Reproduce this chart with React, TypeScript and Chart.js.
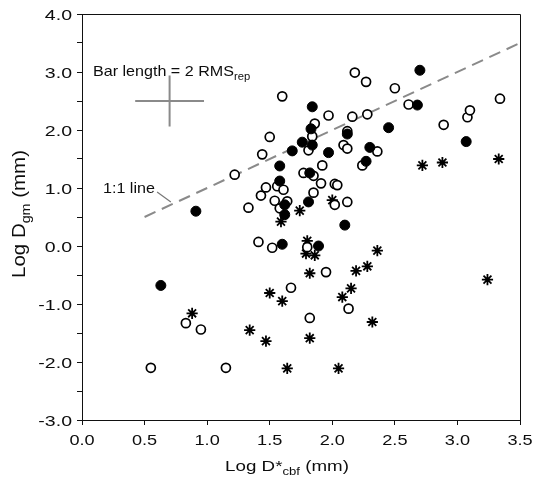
import React, { useEffect, useRef } from 'react';
import { Chart, registerables } from 'chart.js';

Chart.register(...registerables);

// ---- data ----
const filledX = [0.63, 0.91, 1.58, 1.58, 1.62, 1.62, 1.60, 1.68, 1.76, 1.84, 1.83, 1.84, 1.82, 1.81, 1.89, 1.97, 2.10, 2.12, 2.27, 2.30, 2.45, 2.68, 2.70, 3.07];
const filledY = [-0.68, 0.60, 1.38, 1.12, 0.71, 0.54, 0.03, 1.64, 1.79, 1.74, 2.02, 2.40, 1.26, 0.76, 0.00, 1.61, 0.36, 1.93, 1.46, 1.70, 2.04, 2.43, 3.03, 1.80];

const openX = [0.55, 0.83, 0.95, 1.15, 1.22, 1.33, 1.41, 1.43, 1.44, 1.47, 1.50, 1.52, 1.54, 1.56, 1.58, 1.60, 1.61, 1.64, 1.67, 1.77, 1.80, 1.81, 1.82, 1.84, 1.85, 1.85, 1.86, 1.91, 1.92, 1.95, 1.97, 2.02, 2.04, 2.02, 2.09, 2.12, 2.12, 2.12, 2.13, 2.16, 2.18, 2.24, 2.27, 2.28, 2.36, 2.50, 2.61, 2.89, 3.08, 3.10, 3.34];
const openY = [-2.10, -1.33, -1.44, -2.10, 1.23, 0.66, 0.07, 0.87, 1.58, 1.01, 1.88, -0.03, 0.78, 1.03, 0.65, 2.58, 0.97, 0.77, -0.72, 1.26, -0.02, 1.65, -1.24, 1.89, 0.92, 1.21, 2.11, 1.08, 1.39, -0.45, 2.25, 1.07, 1.05, 0.71, 1.74, 1.98, 1.68, 0.76, -1.08, 2.23, 2.99, 1.39, 2.83, 2.27, 1.63, 2.72, 2.44, 2.09, 2.22, 2.34, 2.54];

const starX = [0.88, 1.34, 1.47, 1.50, 1.59, 1.60, 1.64, 1.74, 1.79, 1.80, 1.82, 1.82, 1.86, 2.00, 2.05, 2.08, 2.15, 2.19, 2.28, 2.32, 2.36, 2.72, 2.88, 3.24, 3.33];
const starY = [-1.16, -1.45, -1.64, -0.81, 0.42, -0.95, -2.11, 0.61, -0.13, 0.09, -0.47, -1.59, -0.16, 0.79, -2.11, -0.88, -0.73, -0.43, -0.35, -1.31, -0.08, 1.39, 1.44, -0.58, 1.50];

const oneToOneX = [0.5, 3.5];
const oneToOneY = [0.5, 3.5];

const crossCenter = [0.70, 2.50];
const crossHalf = [0.275, 0.44];

const leaderX = [0.60, 0.71];
const leaderY = [0.93, 0.76];

const xTickValues = [0, 0.5, 1, 1.5, 2, 2.5, 3, 3.5];
const yTickValues = [-3, -2, -1, 0, 1, 2, 3, 4];

const FONT = '"Liberation Sans", Arial, Helvetica, sans-serif';
const TEXT = '#0d0d0d';

type Part = { t: string; sub?: boolean };

function partsWidth(ctx: CanvasRenderingContext2D, parts: Part[], size: number) {
  let w = 0;
  for (const p of parts) {
    ctx.font = `${p.sub ? size * 0.7 : size}px ${FONT}`;
    w += ctx.measureText(p.t).width;
  }
  return w;
}

function drawParts(ctx: CanvasRenderingContext2D, parts: Part[], size: number, x0: number) {
  let x = x0;
  for (const p of parts) {
    const s = p.sub ? size * 0.7 : size;
    ctx.font = `${s}px ${FONT}`;
    ctx.fillText(p.t, x, p.sub ? size * 0.28 : 0);
    x += ctx.measureText(p.t).width;
  }
}

// draws rich text; (x,y) = anchor on baseline
function drawRich(
  ctx: CanvasRenderingContext2D,
  parts: Part[],
  x: number,
  y: number,
  size: number,
  sx: number,
  sy: number,
  align: 'left' | 'center' | 'right',
  rotate = 0
) {
  ctx.save();
  ctx.translate(x, y);
  if (rotate) ctx.rotate(rotate);
  ctx.scale(sx, sy);
  ctx.fillStyle = TEXT;
  ctx.textAlign = 'left';
  ctx.textBaseline = 'alphabetic';
  const w = partsWidth(ctx, parts, size);
  const start = align === 'left' ? 0 : align === 'center' ? -w / 2 : -w;
  drawParts(ctx, parts, size, start);
  ctx.restore();
}

const textPlugin = {
  id: 'customText',
  afterDraw(chart: any) {
    const ctx: CanvasRenderingContext2D = chart.ctx;
    const xs = chart.scales.x;
    const ys = chart.scales.y;
    const ca = chart.chartArea;

    // frame (top & right)
    ctx.save();
    ctx.strokeStyle = '#111';
    ctx.lineWidth = 1;
    ctx.beginPath();
    const l = Math.round(ca.left) + 0.5, r = Math.round(ca.right) + 0.5;
    const t = Math.round(ca.top) + 0.5, b = Math.round(ca.bottom) + 0.5;
    ctx.moveTo(l, t);
    ctx.lineTo(r, t);
    ctx.lineTo(r, b);
    ctx.stroke();
    ctx.restore();

    // y tick labels
    for (const v of yTickValues) {
      const py = ys.getPixelForValue(v);
      drawRich(ctx, [{ t: v.toFixed(1) }], ca.left - 10, py + 5.6, 15.5, 1.26, 1, 'right');
    }
    // x tick labels
    for (const v of xTickValues) {
      const px = xs.getPixelForValue(v);
      drawRich(ctx, [{ t: v.toFixed(1) }], px, 445, 15.5, 1.17, 1, 'center');
    }
    // x title
    drawRich(
      ctx,
      [{ t: 'Log D*' }, { t: 'cbf', sub: true }, { t: ' (mm)' }],
      287,
      471,
      15.5,
      1.21,
      1,
      'center'
    );
    // y title
    drawRich(
      ctx,
      [{ t: 'Log D' }, { t: 'gm', sub: true }, { t: ' (mm)' }],
      25,
      214,
      15.5,
      1.32,
      1.2,
      'center',
      -Math.PI / 2
    );
    // annotations
    drawRich(ctx, [{ t: 'Bar length = 2 RMS' }, { t: 'rep', sub: true }], 93, 76, 14.5, 1.11, 1, 'left');
    drawRich(ctx, [{ t: '1:1 line' }], 103, 193, 14.5, 1.11, 1, 'left');
  },
};

function toPts(xs: number[], ys: number[]) {
  return xs.map((x, i) => ({ x, y: ys[i] }));
}

export default function App() {
  const ref = useRef<HTMLCanvasElement | null>(null);

  useEffect(() => {
    if (!ref.current) return;
    const gray = '#8a8a8a';
    const chart = new Chart(ref.current, {
      type: 'scatter',
      data: {
        datasets: [
          {
            label: 'filled',
            data: toPts(filledX, filledY),
            pointStyle: 'circle',
            pointRadius: 5,
            backgroundColor: '#000',
            borderColor: '#000',
            borderWidth: 1,
          },
          {
            label: 'open',
            data: toPts(openX, openY),
            pointStyle: 'circle',
            pointRadius: 4.5,
            backgroundColor: '#fff',
            borderColor: '#000',
            borderWidth: 1.7,
          },
          {
            label: 'star',
            data: toPts(starX, starY),
            pointStyle: 'star',
            pointRadius: 5.6,
            backgroundColor: '#000',
            borderColor: '#000',
            borderWidth: 1.8,
          },
          {
            label: 'leader',
            data: toPts(leaderX, leaderY),
            showLine: true,
            pointRadius: 0,
            borderColor: '#777',
            borderWidth: 1.2,
          },
          {
            label: 'crossH',
            data: [
              { x: crossCenter[0] - crossHalf[0], y: crossCenter[1] },
              { x: crossCenter[0] + crossHalf[0], y: crossCenter[1] },
            ],
            showLine: true,
            pointRadius: 0,
            borderColor: gray,
            borderWidth: 2,
          },
          {
            label: 'crossV',
            data: [
              { x: crossCenter[0], y: crossCenter[1] - crossHalf[1] },
              { x: crossCenter[0], y: crossCenter[1] + crossHalf[1] },
            ],
            showLine: true,
            pointRadius: 0,
            borderColor: gray,
            borderWidth: 2,
          },
          {
            label: '1:1',
            data: toPts(oneToOneX, oneToOneY),
            showLine: true,
            pointRadius: 0,
            borderColor: gray,
            borderWidth: 2,
            borderDash: [12, 7],
          },
        ],
      },
      options: {
        animation: false,
        responsive: true,
        maintainAspectRatio: false,
        layout: { padding: { top: 14, right: 16, bottom: 0, left: 0 } },
        plugins: { legend: { display: false }, tooltip: { enabled: false } },
        scales: {
          x: {
            type: 'linear',
            min: 0,
            max: 3.5,
            ticks: { stepSize: 0.5, display: false },
            grid: { drawOnChartArea: false, drawTicks: true, tickLength: 5, color: '#111' },
            border: { display: true, color: '#111', width: 1 },
            afterFit: (s: any) => {
              s.height = 63;
            },
          },
          y: {
            type: 'linear',
            min: -3,
            max: 4,
            ticks: { stepSize: 0.5, display: false },
            grid: { drawOnChartArea: false, drawTicks: true, tickLength: 5, color: '#111' },
            border: { display: true, color: '#111', width: 1 },
            afterFit: (s: any) => {
              s.width = 82;
            },
          },
        },
      } as any,
      plugins: [textPlugin],
    });
    return () => chart.destroy();
  }, []);

  return (
    <div style={{ position: 'absolute', left: 0, top: 0, width: 536, height: 483, background: '#fff' }}>
      <canvas ref={ref} />
    </div>
  );
}
